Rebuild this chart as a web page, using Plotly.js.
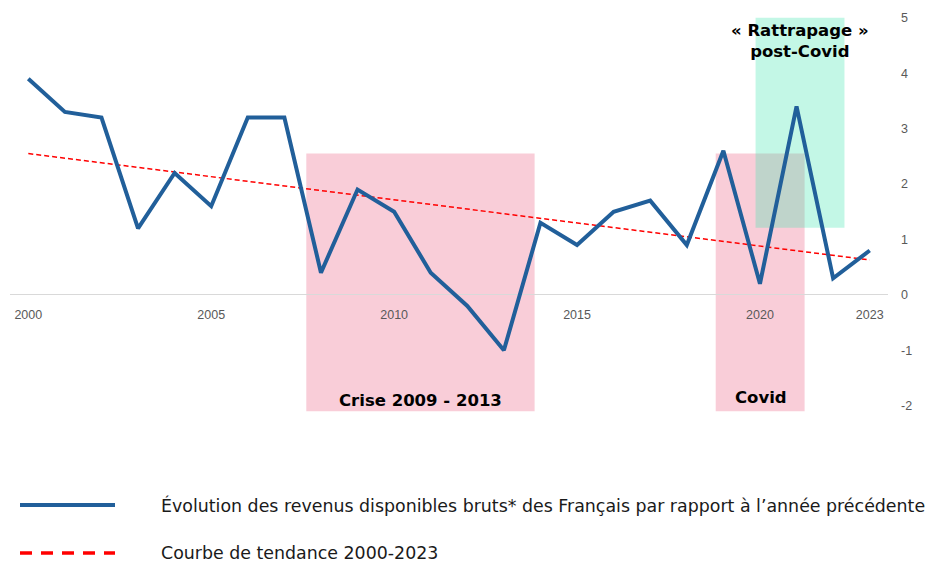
<!DOCTYPE html>
<html><head><meta charset="utf-8">
<script src="https://cdn.plot.ly/plotly-3.0.1.min.js"></script>
<style>html,body{margin:0;padding:0;background:#fff}#chart{width:932px;height:566px}</style>
</head><body><div id="chart"></div>
<script>
const years = [2000,2001,2002,2003,2004,2005,2006,2007,2008,2009,2010,2011,2012,2013,2014,2015,2016,2017,2018,2019,2020,2021,2022,2023];
const revenus = [3.9,3.3,3.2,1.2,2.2,1.6,3.2,3.2,0.4,1.9,1.5,0.4,-0.2,-1.0,1.3,0.9,1.5,1.7,0.9,2.6,0.2,3.4,0.3,0.8];
const trendYears = [2000,2023];
const trendValues = [2.55,0.63];
const xTicks = [2000,2005,2010,2015,2020,2023];
const yTicks = [-2,-1,0,1,2,3,4,5];
const yTickText = ["-2","-1","0","1","2","3","4","5"];
const serieNames = ["Évolution des revenus disponibles bruts* des Français par rapport à l’année précédente","Courbe de tendance 2000-2023"];

const W=932,H=566, L=10, R=44, T=15, B=152;
const pw=W-L-R, ph=H-T-B;
const px=x=>(x-L)/pw, py=y=>(H-B-y)/ph;
const font="Liberation Sans, Arial, sans-serif";
const wide="DejaVu Sans, sans-serif";

const traces=[
 {x:trendYears,y:trendValues,mode:'lines',line:{color:'#ff0000',width:1.5,dash:'5px,3px'},showlegend:false,hoverinfo:'skip'},
 {x:years,y:revenus,mode:'lines',line:{color:'#215f9a',width:4},showlegend:false}
];
const shapes=[
 {type:'rect',xref:'x',yref:'y',x0:2007.6,x1:2013.84,y0:-2.1,y1:2.55,fillcolor:'rgba(236,100,133,0.32)',line:{width:0},layer:'below'},
 {type:'rect',xref:'x',yref:'y',x0:2018.79,x1:2021.22,y0:-2.1,y1:2.55,fillcolor:'rgba(236,100,133,0.32)',line:{width:0},layer:'below'},
 {type:'rect',xref:'x',yref:'y',x0:2019.88,x1:2022.31,y0:1.21,y1:5,fillcolor:'rgba(55,228,172,0.3)',line:{width:0},layer:'below'},
 {type:'line',xref:'paper',yref:'paper',x0:px(20),x1:px(115),y0:py(505),y1:py(505),line:{color:'#215f9a',width:4}},
 {type:'line',xref:'paper',yref:'paper',x0:px(20),x1:px(115),y0:py(553),y1:py(553),line:{color:'#ff0000',width:3.5,dash:'12px,9px'}}
];
const annotations=[
 {xref:'x',yref:'y',x:2021.1,y:4.58,text:'<b>« Rattrapage »<br>post-Covid</b>',showarrow:false,font:{family:wide,size:16.5,color:'#000'}},
 {xref:'x',yref:'y',x:2010.72,y:-1.9,text:'<b>Crise 2009 - 2013</b>',showarrow:false,font:{family:wide,size:16.5,color:'#000'}},
 {xref:'x',yref:'y',x:2020.02,y:-1.86,text:'<b>Covid</b>',showarrow:false,font:{family:wide,size:16.5,color:'#000'}},
 {xref:'paper',yref:'paper',x:px(159),y:py(505),xanchor:'left',yanchor:'middle',text:serieNames[0],showarrow:false,font:{family:wide,size:17.4,color:'#1a1a1a'}},
 {xref:'paper',yref:'paper',x:px(159),y:py(553),xanchor:'left',yanchor:'middle',text:serieNames[1],showarrow:false,font:{family:wide,size:17.4,color:'#1a1a1a'}}
];
const layout={
 width:W,height:H,margin:{l:L,r:R,t:T,b:B},paper_bgcolor:'#fff',plot_bgcolor:'#fff',
 font:{family:font},
 xaxis:{range:[1999.5,2023.5],tickvals:xTicks,ticktext:xTicks.map(String),anchor:'free',position:2.15/7.2,showgrid:false,zeroline:false,showline:false,ticks:'',tickfont:{family:font,size:12.5,color:'#595959'},ticklabelstandoff:11},
 yaxis:{range:[-2.15,5.05],tickvals:yTicks,ticktext:yTickText,side:'right',showgrid:false,zeroline:true,zerolinecolor:'#d9d9d9',zerolinewidth:1,showline:false,ticks:'',tickfont:{family:font,size:12.5,color:'#595959'},ticklabelstandoff:12},
 shapes:shapes,annotations:annotations,showlegend:false
};
Plotly.newPlot('chart',traces,layout,{displayModeBar:false,staticPlot:true});
</script></body></html>
